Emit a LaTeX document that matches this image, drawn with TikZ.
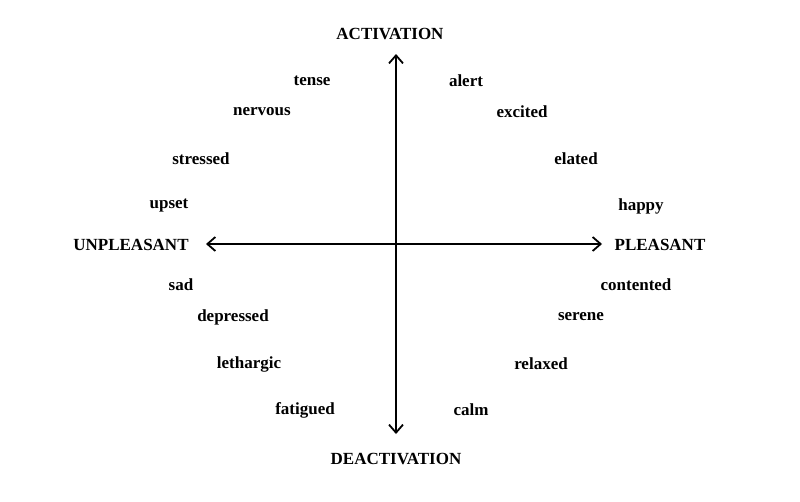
\documentclass[tikz,border=0pt]{standalone}
\usepackage{fontspec}
\setmainfont{Liberation Serif}
\usetikzlibrary{arrows.meta}
\tikzset{
	axis/.style={line width=1.8pt, {Straight Barb[length=8pt,width=14pt]}-{Straight Barb[length=8pt,width=14pt]}},
	word/.style={font=\fontsize{17}{17}\selectfont\bfseries, inner sep=1pt},
	pole/.style={font=\fontsize{17}{17}\selectfont\bfseries, inner sep=1pt}
}
\begin{document}
\begin{tikzpicture}[x=1pt, y=-1pt]
		\useasboundingbox (0,0) rectangle (800,501);

		% Axes
		\coordinate (top) at (396,54);
		\coordinate (bottom) at (396,434);
		\coordinate (left) at (206,244);
		\coordinate (right) at (602,244);
		\draw[axis] (top) -- (bottom);
		\draw[axis] (left) -- (right);
		\node[pole] (activation) at (390,34) {ACTIVATION};
		\node[pole] (deactivation) at (396,459) {DEACTIVATION};
		\node[pole] (unpleasant) at (131,245) {UNPLEASANT};
		\node[pole] (pleasant) at (660,245) {PLEASANT};

		% Upper left
		\node[word] (tense) at (312,81) {tense};
		\node[word] (nervous) at (262,112) {nervous};
		\node[word] (stressed) at (201,159) {stressed};
		\node[word] (upset) at (169,206) {upset};

		% Upper right
		\node[word] (alert) at (466,81) {alert};
		\node[word] (excited) at (522,112) {excited};
		\node[word] (elated) at (576,159) {elated};
		\node[word] (happy) at (641,206) {happy};

		% Lower left
		\node[word] (sad) at (181,285) {sad};
		\node[word] (depressed) at (233,317) {depressed};
		\node[word] (lethargic) at (249,364) {lethargic};
		\node[word] (fatigued) at (305,410) {fatigued};

		% Lower right
		\node[word] (contented) at (636,285) {contented};
		\node[word] (serene) at (581,317) {serene};
		\node[word] (relaxed) at (541,364) {relaxed};
		\node[word] (calm) at (471,410) {calm};
	\end{tikzpicture}
\end{document}
